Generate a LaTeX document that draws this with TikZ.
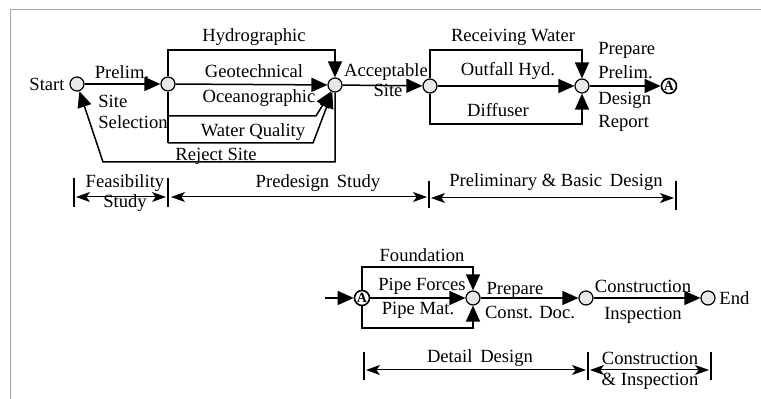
\documentclass[tikz,border=0pt]{standalone}
\usepackage{fontspec}
\setmainfont{Liberation Serif}
\usetikzlibrary{arrows.meta}
\begin{document}
\begin{tikzpicture}[x=0.5pt,y=-0.5pt,
  font=\fontsize{9.3}{11}\selectfont,
  ev/.style={circle, draw, line width=0.6pt, fill=gray!18, minimum size=7pt, inner sep=0pt},
  conn/.style={circle, draw, line width=0.8pt, minimum size=7.5pt, inner sep=0pt, font=\fontsize{7}{7}\selectfont\bfseries},
  flow/.style={line width=0.75pt, -{Triangle[length=8pt,width=7pt]}},
  ln/.style={line width=0.75pt},
  phase/.style={line width=0.5pt, {Stealth[length=7pt,width=5pt,inset=1.8pt]}-{Stealth[length=7pt,width=5pt,inset=1.8pt]}},
  tickline/.style={line width=0.7pt},
  txt/.style={inner sep=0pt}]
\useasboundingbox (0,0) rectangle (761,399);
% frame
\draw[gray!70, line width=0.5pt] (761,10) -- (10,10) -- (10,399);

% ---------- row 1 ----------
\node[ev] (s) at (77,84) {};
\node[txt, anchor=east] (slbl) at (65,84) {Start};
\node[ev] (n2) at (168,84) {};
\node[ev] (n3) at (335,85) {};
\node[ev] (n4) at (430,86) {};
\node[ev] (n5) at (582,86) {};
\node[conn] (a1) at (669,86) {A};

\coordinate (hy) at (335,50);
\coordinate (oa) at (168,116);
\coordinate (oc) at (316,116);
\coordinate (wa) at (168,143);
\coordinate (wc) at (313,143);
\coordinate (rj) at (103,162);
\coordinate (rw) at (582,50);
\coordinate (df) at (582,124);

\draw[flow] (s) -- (n2);
\draw[flow] (n2) |- (hy) -- (n3);
\draw[flow] (n2) -- (n3);
\draw[ln] (n2) -- (wa);
\draw[flow] (oa) -- (oc) -- (n3);
\draw[flow] (wa) -- (wc) -- (n3);
\draw[flow] (n3) |- (rj) -- (s);
\draw[flow] (n3) -- (n4);
\draw[flow] (n4) |- (rw) -- (n5);
\draw[flow] (n4) -- (n5);
\draw[flow] (n4) |- (df) -- (n5);
\draw[flow] (n5) -- (a1);

\node[txt] (t1) at (122,72) {Prelim.};
\node[txt, anchor=west] (t2) at (98,101) {Site};
\node[txt, anchor=west] (t3) at (98,122) {Selection};
\node[txt] (t4) at (254,37) {Hydrographic};
\node[txt] (t5) at (254,71) {Geotechnical};
\node[txt] (t6) at (259,98) {Oceanographic};
\node[txt] (t7) at (253,132) {Water Quality};
\node[txt] (t8) at (216,156) {Reject Site};
\node[txt] (t9) at (386,72) {Acceptable};
\node[txt] (t10) at (388,90) {Site};
\node[txt] (t11) at (513,37) {Receiving Water};
\node[txt] (t12) at (508,71) {Outfall Hyd.};
\node[txt] (t13) at (498,110) {Diffuser};
\node[txt, anchor=west] (t14) at (598,50) {Prepare};
\node[txt, anchor=west] (t15) at (598,72) {Prelim.};
\node[txt, anchor=west] (t16) at (598,100) {Design};
\node[txt, anchor=west] (t17) at (598,123) {Report};

% phases row 1
\coordinate (k1t) at (74,178); \coordinate (k1b) at (74,207);
\coordinate (k2t) at (168,178); \coordinate (k2b) at (168,207);
\coordinate (k3t) at (429,181); \coordinate (k3b) at (429,208);
\coordinate (k4t) at (676,181); \coordinate (k4b) at (676,210);
\draw[tickline] (k1t) -- (k1b);
\draw[tickline] (k2t) -- (k2b);
\draw[tickline] (k3t) -- (k3b);
\draw[tickline] (k4t) -- (k4b);
\coordinate (p1a) at (76,197); \coordinate (p1b) at (166,197);
\coordinate (p2a) at (171,197); \coordinate (p2b) at (427,197);
\coordinate (p3a) at (431,198); \coordinate (p3b) at (674,198);
\draw[phase] (p1a) -- (p1b);
\draw[phase] (p2a) -- (p2b);
\draw[phase] (p3a) -- (p3b);
\node[txt] (f1) at (125,183) {Feasibility};
\node[txt] (f2) at (125,203) {Study};
\node[txt] (f3) at (318,183) {Predesign\, Study};
\node[txt] (f4) at (556,182) {Preliminary \& Basic\, Design};

% ---------- row 2 ----------
\coordinate (in) at (325,298);
\node[conn] (a2) at (362,298) {A};
\node[ev] (d1) at (473,298) {};
\node[ev] (d2) at (586,298) {};
\node[ev] (e) at (708,298) {};
\coordinate (fo) at (473,267);
\coordinate (pm) at (473,328);
\draw[flow] (in) -- (a2);
\draw[flow] (a2) |- (fo) -- (d1);
\draw[flow] (a2) -- (d1);
\draw[flow] (a2) |- (pm) -- (d1);
\draw[flow] (d1) -- (d2);
\draw[flow] (d2) -- (e);

\node[txt] (u1) at (422,255) {Foundation};
\node[txt] (u2) at (422,286) {Pipe Forces};
\node[txt] (u3) at (418,310) {Pipe Mat.};
\node[txt] (u4) at (515,290) {Prepare};
\node[txt] (u5) at (530,312) {Const. Doc.};
\node[txt] (u6) at (643,286) {Construction};
\node[txt] (u7) at (643,315) {Inspection};
\node[txt, anchor=west] (u8) at (719,298) {End};

% phases row 2
\coordinate (m1t) at (364,352); \coordinate (m1b) at (364,380);
\coordinate (m2t) at (588,352); \coordinate (m2b) at (588,380);
\coordinate (m3t) at (711,352); \coordinate (m3b) at (711,380);
\draw[tickline] (m1t) -- (m1b);
\draw[tickline] (m2t) -- (m2b);
\draw[tickline] (m3t) -- (m3b);
\coordinate (q1a) at (366,370); \coordinate (q1b) at (586,370);
\coordinate (q2a) at (590,370); \coordinate (q2b) at (709,370);
\draw[phase] (q1a) -- (q1b);
\draw[phase] (q2a) -- (q2b);
\node[txt] (v1) at (480,358) {Detail\, Design};
\node[txt] (v2) at (650,358) {Construction};
\node[txt] (v3) at (650,381) {\& Inspection};
\end{tikzpicture}
\end{document}
